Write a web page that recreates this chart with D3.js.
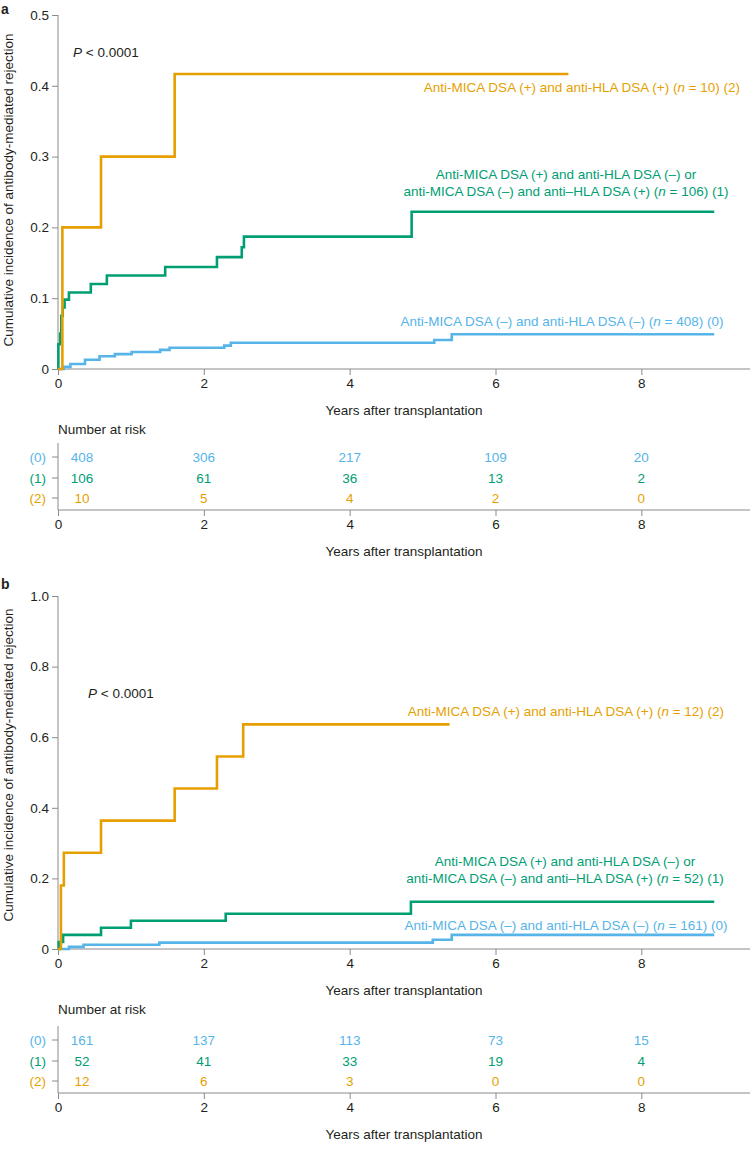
<!DOCTYPE html>
<html><head><meta charset="utf-8">
<script src="https://cdn.jsdelivr.net/npm/d3@7"></script>
<style>
body{margin:0;background:#fff}
svg{display:block}
text{font-family:"Liberation Sans",Arial,Helvetica,sans-serif;font-size:13.5px;fill:#231f20}
</style>
</head><body>
<svg id="c" width="750" height="1149"></svg>
<script>
// ---------- data ----------
const xTicks = [0, 2, 4, 6, 8];
const xTickLabels = ["0", "2", "4", "6", "8"];
const aYTicks = [0, 0.1, 0.2, 0.3, 0.4, 0.5];
const aYTickLabels = ["0", "0.1", "0.2", "0.3", "0.4", "0.5"];
const bYTicks = [0, 0.2, 0.4, 0.6, 0.8, 1.0];
const bYTickLabels = ["0", "0.2", "0.4", "0.6", "0.8", "1.0"];
const groupLabels = ["(0)", "(1)", "(2)"];
const colors = ["#56B4E9", "#009E73", "#E69F00"];

// panel a: [years, cumulative incidence]
const aCurve0 = [[0,0],[0.08,0.003],[0.17,0.007],[0.37,0.013],[0.57,0.018],[0.78,0.021],[1.01,0.024],[1.4,0.027],[1.53,0.03],[2.28,0.033],[2.37,0.037],[5.16,0.041],[5.4,0.049],[9.0,0.049]];
const aCurve1 = [[0,0],[0.005,0.035],[0.03,0.05],[0.045,0.075],[0.065,0.087],[0.09,0.098],[0.15,0.108],[0.45,0.12],[0.67,0.132],[1.47,0.144],[2.18,0.158],[2.52,0.172],[2.55,0.187],[4.85,0.222],[9.0,0.222]];
const aCurve2 = [[0,0],[0.06,0.2],[0.59,0.3],[1.6,0.4167],[7.0,0.4167]];
const aRisk0 = [408, 306, 217, 109, 20];
const aRisk1 = [106, 61, 36, 13, 2];
const aRisk2 = [10, 5, 4, 2, 0];

// panel b
const bCurve0 = [[0,0],[0.15,0.006],[0.35,0.012],[1.39,0.018],[5.14,0.026],[5.4,0.04],[9.0,0.04]];
const bCurve1 = [[0,0],[0.01,0.02],[0.07,0.04],[0.59,0.06],[1.0,0.08],[2.3,0.1],[4.84,0.134],[9.0,0.134]];
const bCurve2 = [[0,0],[0.04,0.18],[0.08,0.2727],[0.59,0.3636],[1.6,0.4545],[2.18,0.5454],[2.54,0.6364],[5.37,0.6364]];
const bRisk0 = [161, 137, 113, 73, 15];
const bRisk1 = [52, 41, 33, 19, 4];
const bRisk2 = [12, 6, 3, 0, 0];

const aLabels = [
  {g:0, lines:[["Anti-MICA DSA (–) and anti-HLA DSA (–) (", "n", " = 408) (0)"]], cx:562, y:326},
  {g:1, lines:[["Anti-MICA DSA (+) and anti-HLA DSA (–) or"], ["anti-MICA DSA (–) and anti–HLA DSA (+) (", "n", " = 106) (1)"]], cx:566, y:179},
  {g:2, lines:[["Anti-MICA DSA (+) and anti-HLA DSA (+) (", "n", " = 10) (2)"]], cx:582, y:92}
];
const bLabels = [
  {g:0, lines:[["Anti-MICA DSA (–) and anti-HLA DSA (–) (", "n", " = 161) (0)"]], cx:566, y:930},
  {g:1, lines:[["Anti-MICA DSA (+) and anti-HLA DSA (–) or"], ["anti-MICA DSA (–) and anti–HLA DSA (+) (", "n", " = 52) (1)"]], cx:565, y:866},
  {g:2, lines:[["Anti-MICA DSA (+) and anti-HLA DSA (+) (", "n", " = 12) (2)"]], cx:566, y:716}
];

// ---------- drawing ----------
const svg = d3.select("#c");
const axisColor = "#8a8a8a";
const x = d3.scaleLinear().domain([0, 9.6]).range([58, 758]);

function panel(opt) {
  const g = svg.append("g");
  const y = d3.scaleLinear().domain([0, opt.ymax]).range([opt.y0, opt.ytop]);

  g.append("text").attr("x", 1).attr("y", opt.letterY).style("font-weight", "bold").style("font-size", "14px").text(opt.letter);

  const yAxis = d3.axisLeft(y).tickValues(opt.yTicks).tickFormat((d, i) => opt.yTickLabels[i]).tickSize(6).tickPadding(3);
  const ya = g.append("g").attr("transform", `translate(${x(0)},0)`).call(yAxis);
  ya.select(".domain").attr("stroke", axisColor).attr("d", `M0,${opt.ytop}V${opt.y0}`);
  ya.selectAll(".tick line").attr("stroke", axisColor);
  ya.selectAll(".tick text").style("font-size", "13.5px").attr("fill", "#231f20").attr("font-family", null);

  const xAxis = d3.axisBottom(x).tickValues(xTicks).tickFormat((d, i) => xTickLabels[i]).tickSize(6).tickPadding(3).tickSizeOuter(0);
  const xa = g.append("g").attr("transform", `translate(0,${opt.y0})`).call(xAxis);
  xa.select(".domain").attr("stroke", axisColor).attr("d", `M${x(0)},0H750`);
  xa.selectAll(".tick line").attr("stroke", axisColor);
  xa.selectAll(".tick text").style("font-size", "13.5px").attr("fill", "#231f20").attr("font-family", null);

  g.append("text").attr("x", 404).attr("y", opt.y0 + 46).attr("text-anchor", "middle").text("Years after transplantation");

  g.append("text").attr("transform", `translate(13,${opt.yTitleC}) rotate(-90)`).attr("text-anchor", "middle")
    .text("Cumulative incidence of antibody-mediated rejection");

  const p = g.append("text").attr("x", opt.px).attr("y", opt.py);
  p.append("tspan").style("font-style", "italic").text("P");
  p.append("tspan").text(" < 0.0001");

  const line = d3.line().x(d => x(d[0])).y(d => y(d[1])).curve(d3.curveStepAfter);
  opt.curves.forEach((c, i) => {
    g.append("path").datum(c).attr("d", line).attr("fill", "none").attr("stroke", colors[i])
      .attr("stroke-width", 2.6).attr("stroke-linejoin", "miter").attr("stroke-linecap", "butt");
  });

  opt.labels.forEach(L => {
    L.lines.forEach((ln, k) => {
      const t = g.append("text").attr("x", L.cx).attr("y", L.y + k * 17).attr("text-anchor", "middle").style("fill", colors[L.g]);
      ln.forEach((s, j) => {
        const ts = t.append("tspan").text(s).style("fill", colors[L.g]);
        if (j === 1) ts.style("font-style", "italic");
      });
    });
  });

  const r0 = opt.y0;
  g.append("text").attr("x", x(0)).attr("y", r0 + 65).text("Number at risk");
  const rowY = [r0 + 88 + opt.rShift, r0 + 109 + opt.rShift, r0 + 129 + opt.rShift];
  const rAxisY = r0 + 141 + opt.rShift;
  g.append("line").attr("x1", x(0)).attr("x2", x(0)).attr("y1", r0 + 74 + opt.rShift).attr("y2", rAxisY).attr("stroke", axisColor);
  opt.risk.forEach((row, i) => {
    g.append("line").attr("x1", x(0) - 6).attr("x2", x(0)).attr("y1", rowY[i]).attr("y2", rowY[i]).attr("stroke", axisColor);
    g.append("text").attr("x", 46).attr("y", rowY[i] + 5).attr("text-anchor", "end").style("fill", colors[i]).text(groupLabels[i]);
    row.forEach((v, j) => {
      g.append("text").attr("x", x(xTicks[j]) + (j === 0 ? 24 : 0)).attr("y", rowY[i] + 5)
        .attr("text-anchor", "middle").style("fill", colors[i]).text(v);
    });
  });
  const xa2 = g.append("g").attr("transform", `translate(0,${rAxisY})`).call(xAxis);
  xa2.select(".domain").attr("stroke", axisColor).attr("d", `M${x(0)},0H750`);
  xa2.selectAll(".tick line").attr("stroke", axisColor);
  xa2.selectAll(".tick text").style("font-size", "13.5px").attr("fill", "#231f20").attr("font-family", null);
  g.append("text").attr("x", 404).attr("y", rAxisY + 46).attr("text-anchor", "middle").text("Years after transplantation");
}

panel({letter:"a", letterY:14, ymax:0.5, y0:369, ytop:15, yTicks:aYTicks, yTickLabels:aYTickLabels, rShift:0,
  yTitleC:190, px:73, py:57, curves:[aCurve0, aCurve1, aCurve2], labels:aLabels, risk:[aRisk0, aRisk1, aRisk2]});
panel({letter:"b", letterY:589, ymax:1.0, y0:949, ytop:596, yTicks:bYTicks, yTickLabels:bYTickLabels, rShift:3,
  yTitleC:765, px:88, py:698, curves:[bCurve0, bCurve1, bCurve2], labels:bLabels, risk:[bRisk0, bRisk1, bRisk2]});
</script>
</body></html>
